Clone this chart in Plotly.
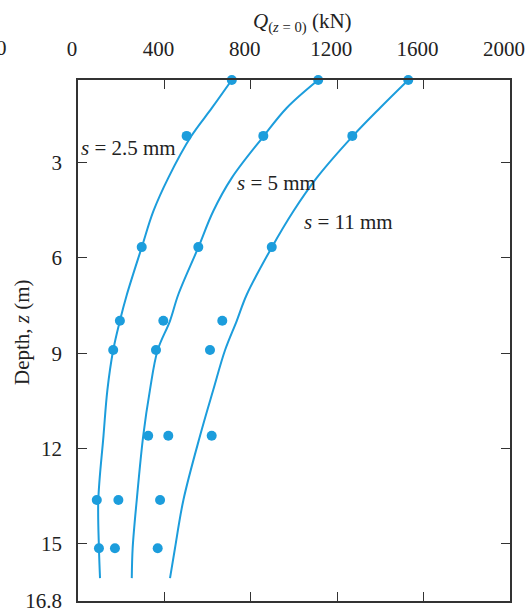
import plotly.graph_objects as go

BLUE = "#1c9ddc"
FONT = "Liberation Serif"

# Measured points (Q in kN at depth z in m)
depth_pts = [0.4, 2.16, 5.66, 7.98, 8.90, 11.6, 13.62, 15.14]
q_s25_pts = [712, 503, 295, 194, 163, 325, 87, 97]
q_s5_pts = [1112, 858, 557, 395, 361, 418, 187, 171]
q_s11_pts = [1529, 1270, 897, 668, 611, 619, 380, 369]

# Fitted curves
curve_z = [0.4, 1.28, 2.18, 3.48, 4.53, 5.67, 7.16, 7.98, 8.90, 10.16, 11.60, 13.62, 15.14, 16.08]
curve_s25_q = [712, 620, 523, 418, 349, 295, 226, 194, 163, 136, 118, 94, 97, 102]
curve_s5_q = [1112, 966, 858, 712, 626, 557, 464, 426, 369, 333, 302, 272, 253, 249]
curve_s11_q = [1529, 1398, 1270, 1105, 997, 897, 781, 735, 681, 626, 565, 488, 449, 426]

x_ticks = [0, 400, 800, 1200, 1600, 2000]
y_ticks = [3, 6, 9, 12, 15, 16.8]
y_tick_text = ["3", "6", "9", "12", "15", "16.8"]

fig = go.Figure()
for cq in [curve_s25_q, curve_s5_q, curve_s11_q]:
    fig.add_trace(go.Scatter(x=cq, y=curve_z, mode="lines",
                             line=dict(color=BLUE, width=2, shape="spline", smoothing=1.0),
                             showlegend=False, hoverinfo="skip"))
for pq in [q_s25_pts, q_s5_pts, q_s11_pts]:
    fig.add_trace(go.Scatter(x=pq, y=depth_pts, mode="markers", marker=dict(color=BLUE, size=10),
                             showlegend=False, cliponaxis=False))

axis_common = dict(showgrid=False, zeroline=False, showline=True, linecolor="#333", linewidth=1.5,
                   ticks="inside", ticklen=9, tickcolor="#333", tickwidth=1.3, mirror="ticks",
                   automargin=False, ticklabeloverflow="allow",
                   tickfont=dict(family=FONT, size=21, color="#222"))

fig.update_layout(
    width=531, height=612,
    margin=dict(l=78, r=21, t=80, b=11),
    paper_bgcolor="white", plot_bgcolor="white",
    xaxis=dict(range=[0, 2000], side="top", tickvals=x_ticks, ticklabelstandoff=14,
               ticklabelshift=-6, **axis_common),
    yaxis=dict(range=[16.8, 0.4], tickvals=y_ticks, ticktext=y_tick_text, ticklabelstandoff=10,
               **axis_common),
    font=dict(family=FONT, size=21, color="#222"),
)

annots = [
    dict(text="<i>Q</i><sub>(<i>z</i> = 0)</sub> (kN)", x=302, y=22, xanchor="center", yanchor="middle"),
    dict(text="Depth, <i>z</i> (m)", x=22, y=332, xanchor="center", yanchor="middle", textangle=-90),
    dict(text="<i>s</i> = 2.5 mm", x=79, y=148, xanchor="left", yanchor="middle"),
    dict(text="<i>s</i> = 5 mm", x=235, y=183, xanchor="left", yanchor="middle"),
    dict(text="<i>s</i> = 11 mm", x=302, y=222, xanchor="left", yanchor="middle"),
    dict(text="0", x=1, y=48, xanchor="center", yanchor="middle"),
]
for a in annots:
    px, py = a.pop("x"), a.pop("y")
    fig.add_annotation(xref="paper", yref="paper", x=(px - 78) / 432, y=(601 - py) / 521,
                       showarrow=False, font=dict(family=FONT, size=21, color="#222"), **a)

fig.write_html("out.html", config={"displayModeBar": False},
               post_script="document.body.style.margin='0px';document.body.style.overflow='hidden';")
